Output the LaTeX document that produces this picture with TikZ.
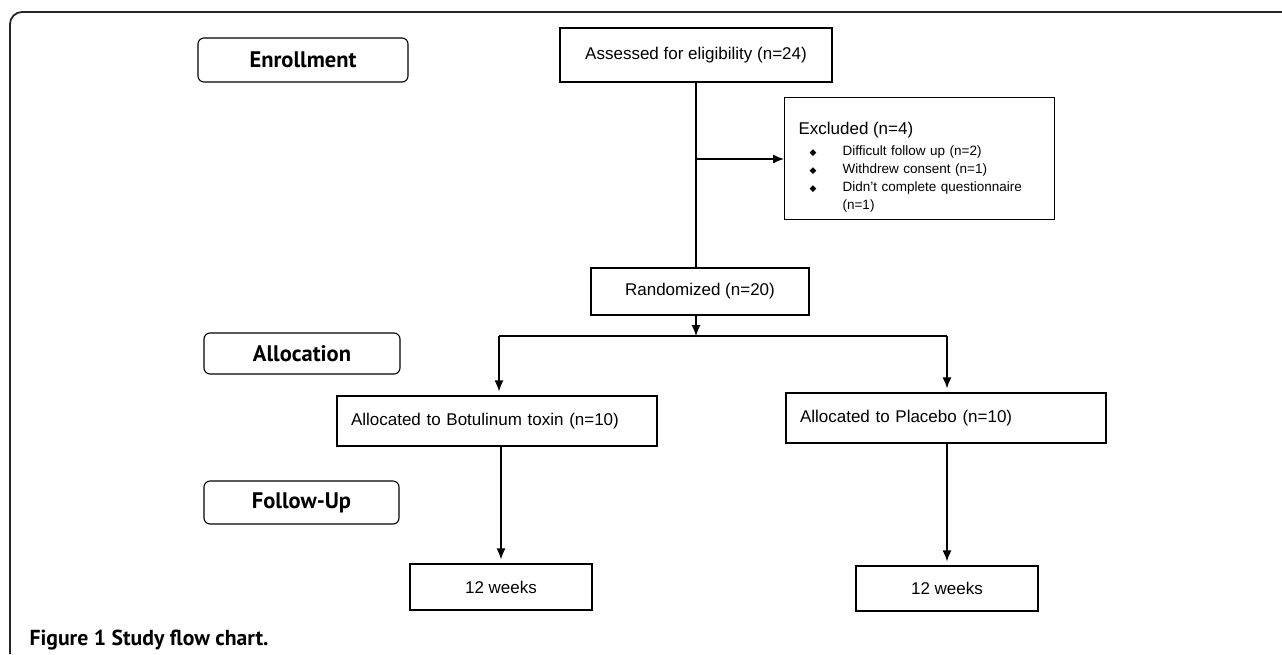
\documentclass[tikz,border=0pt]{standalone}
\usepackage{fontspec}
\usetikzlibrary{arrows.meta}
\setmainfont{Liberation Sans}
\newfontfamily\headfont{PT Sans}
\newfontfamily\symfont{DejaVu Sans}
\newcommand{\diab}{{\symfont\fontsize{9}{9}\selectfont ◆}}
\newcommand{\itemline}[1]{\makebox[44pt][l]{\hspace{11pt}#1}}
\begin{document}
\begin{tikzpicture}[x=1pt, y=-1pt,
  stage/.style={draw, rounded corners=6pt, line width=1.1pt, inner sep=0pt,
    font=\headfont\bfseries\fontsize{22.5}{26}\selectfont},
  box/.style={draw, line width=1.2pt, inner sep=0pt, font=\fontsize{17}{20}\selectfont},
  flow/.style={line width=1.3pt},
  tip/.style={flow, -{Latex[length=11pt, width=9pt]}},
  arr/.style={tip, shorten >=4pt}]
\useasboundingbox (0, 0) rectangle (1282, 654);
\draw [line width=1.8pt, color=black!85, rounded corners=12pt] (10, 654) -- (10, 12) -- (1282, 12);

\node (enroll) at (303, 60) [stage, minimum width=210, minimum height=44] {Enrollment};
\node (alloc) at (302, 353.5) [stage, minimum width=196, minimum height=41] {Allocation};
\node (follow) at (301.5, 502.5) [stage, minimum width=195, minimum height=43] {Follow-Up};

\node (assess) at (696, 55) [box, minimum width=272, minimum height=54] {Assessed for eligibility (n=24)};
\node (excl) at (784, 97) [box, anchor=north west, minimum width=270, minimum height=122,
  inner xsep=14pt, text width=242pt, align=left, font=\fontsize{13.5}{18}\selectfont]
  {{\fontsize{17}{20}\selectfont\rule{0pt}{30pt}Excluded (n=4)}\\[3pt]
   \itemline{\diab}Difficult follow up (n=2)\\
   \itemline{\diab}Withdrew consent (n=1)\\
   \itemline{\diab}Didn't complete questionnaire\\
   \itemline{}(n=1)};
\node (rand) at (700, 291.5) [box, minimum width=218, minimum height=47] {Randomized (n=20)};

\node (bot) at (497, 421) [box, minimum width=320, minimum height=50, inner xsep=14pt,
  text width=292pt, align=left] {Allocated to Botulinum toxin (n=10)};
\node (plac) at (946, 418) [box, minimum width=320, minimum height=50, inner xsep=14pt,
  text width=292pt, align=left] {Allocated to Placebo (n=10)};
\node (wkbot) at (501, 587) [box, minimum width=182, minimum height=46] {12 weeks};
\node (wkplac) at (947, 588.5) [box, minimum width=182, minimum height=45] {12 weeks};

\node (caption) at (26, 645) [anchor=base west, font=\headfont\bfseries\fontsize{21.7}{26}\selectfont]
  {Figure 1 Study flow chart.};

\coordinate (branch) at (696, 159);
\coordinate (split) at (696, 336);
\coordinate (splitL) at (499, 336);
\coordinate (splitR) at (947, 336);

\draw [flow] (assess.south -| branch) -- (rand.north -| branch);
\draw [tip] (branch) -- (branch -| excl.west);
\draw [tip] (rand.south -| split) -- (split);
\draw [flow] (splitL) -- (splitR);
\draw [arr] (splitL) -- (splitL |- bot.north);
\draw [arr] (splitR) -- (splitR |- plac.north);
\draw [arr] (bot.south -| wkbot.north) -- (wkbot);
\draw [arr] (plac.south -| wkplac.north) -- (wkplac);
\end{tikzpicture}
\end{document}
